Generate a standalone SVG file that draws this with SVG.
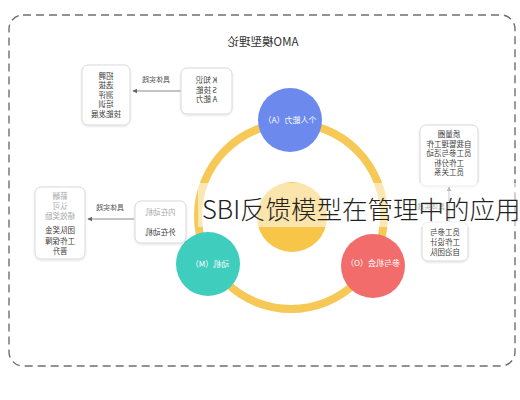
<svg xmlns="http://www.w3.org/2000/svg" width="520" height="400" viewBox="0 0 520 400">
<defs>
<style>
.frame{fill:none;stroke:#6f6f6f;stroke-width:1.4;stroke-dasharray:8 5}
.box{fill:#fff;stroke:#d9d9d9;stroke-width:1}
.t{font-family:"Noto Sans CJK SC","Noto Sans",sans-serif;font-size:7.5px;fill:#3a3a3a;text-anchor:middle}
.g{fill:#a8a8a8}
.lbl{font-family:"Noto Sans CJK SC","Noto Sans",sans-serif;font-size:7px;fill:#555;text-anchor:middle}
.ct{font-family:"Noto Sans CJK SC","Noto Sans",sans-serif;font-size:8px;fill:#fff;text-anchor:middle}
.edge{fill:none;stroke:#8a8a8a;stroke-width:1}
</style>
<filter id="sh" x="-20%" y="-20%" width="140%" height="140%">
<feDropShadow dx="0" dy="1" stdDeviation="1.2" flood-color="#000" flood-opacity="0.12"/>
</filter>
<marker id="ah" viewBox="0 0 8 8" refX="7" refY="4" markerWidth="5" markerHeight="5" orient="auto">
<path d="M0,0 L8,4 L0,8 z" fill="#666"/>
</marker>
</defs>
<rect width="520" height="400" fill="#fff"/>
<rect class="frame" x="9" y="15" width="506" height="351" rx="14"/>
<text x="263" y="46" transform="matrix(-1 0 0 1 526 0)" style="font-family:'Noto Sans CJK SC','Noto Sans',sans-serif;font-size:11.5px;fill:#333;text-anchor:middle">AMO模型理论</text>

<g id="ring">
<circle cx="291" cy="216" r="93" fill="none" stroke="#F6C957" stroke-width="8"/>
<circle cx="292" cy="217" r="35" fill="#F7C548"/>
</g>

<g id="connectors">
<line class="edge" x1="181" y1="91" x2="133" y2="91" marker-end="url(#ah)"/>
<text class="lbl" x="156" y="82" transform="matrix(-1 0 0 1 312 0)">具体实践</text>
<line class="edge" x1="134" y1="219" x2="88" y2="219" marker-end="url(#ah)"/>
<text class="lbl g" x="110" y="210" transform="matrix(-1 0 0 1 220 0)">具体实践</text>
<line class="edge" x1="449" y1="222" x2="449" y2="187" marker-end="url(#ah)"/>
<text class="lbl g" x="431" y="209" transform="matrix(-1 0 0 1 862 0)">具体实践</text>
</g>

<g id="nodeA">
<circle cx="290" cy="120" r="32" fill="#6C8AEE"/>
<text class="ct" x="290" y="123" transform="matrix(-1 0 0 1 580 0)">个人能力（A）</text>
</g>
<g id="nodeM">
<circle cx="208" cy="264" r="32" fill="#3FCDBE"/>
<text class="ct" x="210" y="267" transform="matrix(-1 0 0 1 420 0)">动机（M）</text>
</g>
<g id="nodeO">
<circle cx="373" cy="266" r="32" fill="#F36C6C"/>
<text class="ct" x="373" y="266" transform="matrix(-1 0 0 1 746 0)">参与机会（O）</text>
</g>

<g id="boxKSA">
<rect class="box" filter="url(#sh)" x="181" y="68" width="51" height="46" rx="6"/>
<g transform="matrix(-1 0 0 1 413 0)">
<text class="t" x="206.5" y="83">K 知识</text>
<text class="t" x="206.5" y="92.5">S 技能</text>
<text class="t" x="206.5" y="102">A 能力</text>
</g>
</g>
<g id="boxAbility">
<rect class="box" filter="url(#sh)" x="82" y="65" width="48" height="60" rx="6"/>
<g transform="matrix(-1 0 0 1 212 0)">
<text class="t" x="106" y="78.5">招聘</text>
<text class="t" x="106" y="88">选拔</text>
<text class="t" x="106" y="97.5">测评</text>
<text class="t" x="106" y="107">培训</text>
<text class="t" x="106" y="116.5">技能发展</text>
</g>
</g>
<g id="boxMotive">
<rect class="box" filter="url(#sh)" x="135" y="201" width="51" height="42" rx="6"/>
<g transform="matrix(-1 0 0 1 321 0)">
<text class="t g" x="160.5" y="215">内在动机</text>
<text class="t" x="160.5" y="235">外在动机</text>
</g>
</g>
<g id="boxMotivePractice">
<rect class="box" filter="url(#sh)" x="35" y="187" width="50" height="72" rx="6"/>
<g transform="matrix(-1 0 0 1 120 0)">
<text class="t g" x="60" y="199">薪酬</text>
<text class="t g" x="60" y="209">认可</text>
<text class="t g" x="60" y="219">绩效奖励</text>
<text class="t" x="60" y="233">团队奖金</text>
<text class="t" x="60" y="244">工作保障</text>
<text class="t" x="60" y="254">晋升</text>
</g>
</g>
<g id="boxOpportunity">
<rect class="box" filter="url(#sh)" x="422" y="222" width="46" height="39" rx="6"/>
<g transform="matrix(-1 0 0 1 890 0)">
<text class="t" x="445" y="235">员工参与</text>
<text class="t" x="445" y="245">工作设计</text>
<text class="t" x="445" y="255">自治团队</text>
</g>
</g>
<g id="boxOpPractice">
<rect class="box" filter="url(#sh)" x="420" y="125" width="58" height="61" rx="6"/>
<g transform="matrix(-1 0 0 1 898 0)">
<text class="t" x="449" y="137">质量圈</text>
<text class="t" x="449" y="146.5">自我管理工作</text>
<text class="t" x="449" y="156">员工参与活动</text>
<text class="t" x="449" y="165.5">工作分析</text>
<text class="t" x="449" y="175">员工关系</text>
</g>
</g>

<g id="overlay">
<rect x="198" y="183" width="322" height="44" fill="#fff" fill-opacity="0.55"/>
<text x="202" y="219" style="font-family:'Noto Sans CJK SC','Noto Sans',sans-serif;font-size:25.5px;font-weight:300;fill:#222">SBI反馈模型在管理中的应用</text>
</g>
</svg>
